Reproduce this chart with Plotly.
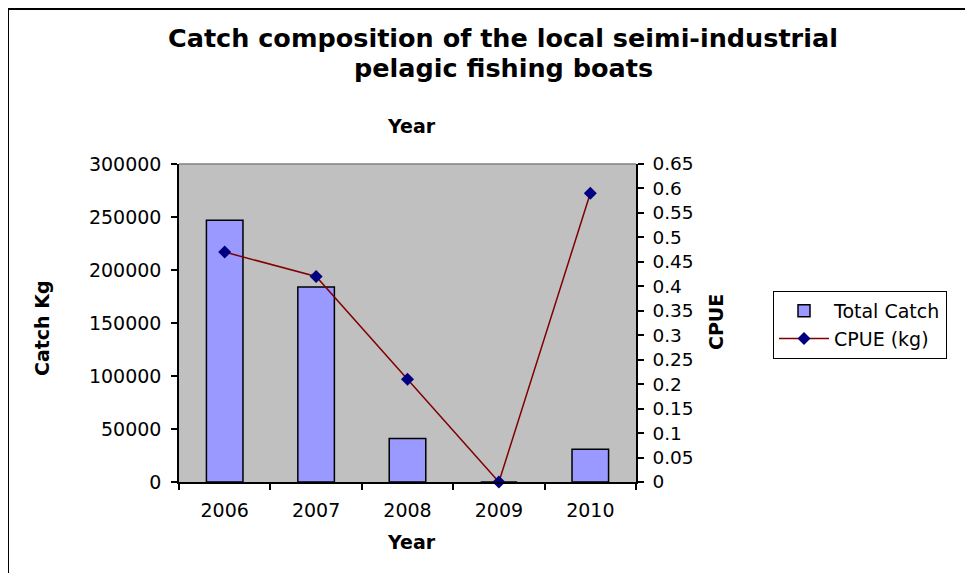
"""
Catch composition chart: bars for total catch, line for CPUE.
"""

import plotly.graph_objects as go


# ==========================================================
# DATA
# ==========================================================

YEARS = ["2006", "2007", "2008", "2009", "2010"]

TOTAL_CATCH = [247000, 184000, 41000, 0, 31000]

CPUE = [0.47, 0.42, 0.21, 0.0, 0.59]

LEFT_TICKS = [0, 50000, 100000, 150000, 200000, 250000, 300000]

RIGHT_TICKS = [i * 0.05 for i in range(14)]
RIGHT_LABELS = ["0", "0.05", "0.1", "0.15", "0.2", "0.25", "0.3", "0.35",
                "0.4", "0.45", "0.5", "0.55", "0.6", "0.65"]


# ==========================================================
# STYLE
# ==========================================================

FAMILY = "DejaVu Sans, Verdana, Arial"
FONT = dict(family=FAMILY, size=19, color="#000000")

# the page body has an 8px margin, so the figure is drawn 8px smaller
W, H = 965, 565
L, R, T, B = 171, 337, 156, 91
PW, PH = W - L - R, H - T - B


def px_x(x):
    """Figure pixel x -> paper coordinate."""
    return (x - L) / PW


def px_y(y):
    """Figure pixel y -> paper coordinate."""
    return (H - B - y) / PH


AXIS = dict(
    showgrid=False,
    zeroline=False,
    showline=True,
    linecolor="#000000",
    linewidth=1.5,
    ticks="outside",
    ticklen=6,
    tickwidth=1.5,
    tickcolor="#000000",
    tickfont=dict(size=19),
)


fig = go.Figure()

fig.add_trace(
    go.Bar(
        x=YEARS,
        y=TOTAL_CATCH,
        name="Total Catch",
        width=0.4,
        marker=dict(color="#9999FF", line=dict(color="#000000", width=1.5)),
    )
)

fig.add_trace(
    go.Scatter(
        x=YEARS,
        y=CPUE,
        name="CPUE (kg)",
        yaxis="y2",
        mode="lines+markers",
        line=dict(color="#800000", width=1.5),
        marker=dict(symbol="diamond", size=10, color="#000080"),
        cliponaxis=False,
    )
)

fig.update_layout(
    width=W,
    height=H,
    autosize=False,
    font=FONT,
    plot_bgcolor="#C0C0C0",
    paper_bgcolor="white",
    margin=dict(l=L, r=R, t=T, b=B, autoexpand=False),
    showlegend=True,
    legend=dict(
        x=px_x(765),
        y=px_y(283),
        xanchor="left",
        yanchor="top",
        bgcolor="white",
        bordercolor="#000000",
        borderwidth=1,
        font=dict(size=19),
        itemwidth=50,
        tracegroupgap=2,
    ),
    xaxis=dict(AXIS, type="category", tickson="boundaries", ticklabelstandoff=10),
    yaxis=dict(
        AXIS,
        range=[0, 300000],
        tickvals=LEFT_TICKS,
        ticktext=[str(v) for v in LEFT_TICKS],
        ticklabelstandoff=6,
    ),
    yaxis2=dict(
        AXIS,
        overlaying="y",
        side="right",
        range=[0, 0.65],
        tickvals=RIGHT_TICKS,
        ticktext=RIGHT_LABELS,
        ticklabelstandoff=5,
        tickfont=dict(size=18.5),
    ),
)


# ==========================================================
# TEXTS
# ==========================================================

def add_text(text, x, y, size=19, angle=0):
    fig.add_annotation(
        text=text,
        xref="paper", yref="paper",
        x=px_x(x), y=px_y(y),
        xanchor="center", yanchor="middle",
        showarrow=False, textangle=angle,
        font=dict(size=size, family=FAMILY),
    )


add_text("<b>Catch composition of the local seimi-industrial</b>", 495, 30, size=25.5)
add_text("<b>pelagic fishing boats</b>", 495, 60, size=25.5)
add_text("<b>Year</b>", 403, 118)
add_text("<b>Year</b>", 403, 534)
add_text("<b>Catch Kg</b>", 34, 320, angle=-90)
add_text("<b>CPUE</b>", 708, 314, angle=-90)


# ==========================================================
# FRAMES
# ==========================================================

# gray top edge of plot area
fig.add_shape(
    type="line", xref="paper", yref="paper",
    x0=0, x1=1, y0=1, y1=1, line=dict(color="#808080", width=1.5),
)

# outer chart frame
fig.add_shape(
    type="rect", xref="paper", yref="paper",
    x0=px_x(0), x1=px_x(958), y0=px_y(1), y1=px_y(600),
    line=dict(color="#000000", width=2),
)

fig.write_html("out.html")
